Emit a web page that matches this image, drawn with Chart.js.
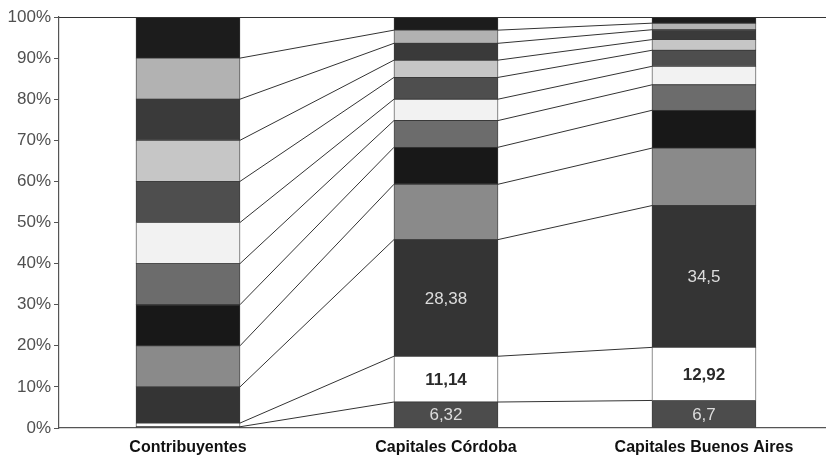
<!DOCTYPE html>
<html>
<head>
<meta charset="utf-8">
<title>Contribuyentes y capitales</title>
<script src="https://cdn.jsdelivr.net/npm/chart.js@4/dist/chart.umd.min.js"></script>
<style>
  html, body { margin: 0; padding: 0; background: #fff; }
  #wrap { width: 826px; height: 458px; position: relative; }
</style>
</head>
<body>
<div id="wrap"><canvas id="chart"></canvas></div>
<script>
// categories (the three bars)
const categories = ['Contribuyentes', 'Capitales Córdoba', 'Capitales Buenos Aires'];

// segment values, bottom to top, one array per bar (%)
const contribuyentes = [0.3, 0.9, 8.8, 10, 10, 10, 10, 10, 10, 10, 10, 10];
const capitalesCordoba = [6.32, 11.14, 28.38, 13.46, 9.0, 6.5, 5.2, 5.3, 4.2, 4.1, 3.2, 3.2];
const capitalesBuenosAires = [6.7, 12.92, 34.5, 13.98, 9.2, 6.2, 4.5, 3.9, 2.6, 2.4, 1.6, 1.5];

// printed labels on the lower segments of the capital bars
const labelsCordoba = ['6,32', '11,14', '28,38'];
const labelsBuenosAires = ['6,7', '12,92', '34,5'];

// y axis tick values
const yTicks = [0, 10, 20, 30, 40, 50, 60, 70, 80, 90, 100];

// grey shades of the segments, bottom to top
const shades = ['#4c4c4c', '#ffffff', '#343434', '#8a8a8a', '#181818', '#6c6c6c',
                '#f2f2f2', '#4e4e4e', '#c6c6c6', '#3a3a3a', '#b2b2b2', '#1c1c1c'];
// text colour for labels on each segment
const labelColors = ['#dcdcdc', '#2a2a2a', '#dcdcdc'];

const FONT = '"Liberation Sans", Arial, sans-serif';

const datasets = contribuyentes.map((v, i) => ({
    data: [v, capitalesCordoba[i], capitalesBuenosAires[i]].map((y, j) => ({ x: j, y: y })),
    backgroundColor: shades[i],
    borderColor: '#3a3a3a',
    borderWidth: 0.8,
    borderSkipped: false,
    barThickness: 104
}));

// lines joining the segment boundaries of neighbouring bars, plus top frame
const connectors = {
    id: 'connectors',
    afterDatasetsDraw(chart) {
        const ctx = chart.ctx;
        const area = chart.chartArea;
        ctx.save();
        ctx.strokeStyle = '#333';
        ctx.lineWidth = 1;
        // top frame line
        ctx.beginPath();
        ctx.moveTo(area.left, area.top + 0.5);
        ctx.lineTo(area.right, area.top + 0.5);
        ctx.stroke();
        for (let i = 0; i < datasets.length - 1; i++) {
            const bars = chart.getDatasetMeta(i).data;
            for (let j = 0; j < bars.length - 1; j++) {
                const a = bars[j], b = bars[j + 1];
                ctx.beginPath();
                ctx.moveTo(a.x + a.width / 2, a.y);
                ctx.lineTo(b.x - b.width / 2, b.y);
                ctx.stroke();
            }
        }
        // value labels
        ctx.textAlign = 'center';
        ctx.textBaseline = 'middle';
        [labelsCordoba, labelsBuenosAires].forEach((labels, k) => {
            labels.forEach((txt, i) => {
                const bar = chart.getDatasetMeta(i).data[k + 1];
                ctx.fillStyle = labelColors[i];
                ctx.font = (i === 1 ? 'bold ' : '') + '17px ' + FONT;
                ctx.fillText(txt, bar.x, (bar.y + bar.base) / 2 + 1);
            });
        });
        ctx.restore();
    }
};

new Chart(document.getElementById('chart'), {
    type: 'bar',
    data: { datasets: datasets },
    options: {
        responsive: true,
        maintainAspectRatio: false,
        animation: false,
        layout: { padding: { top: 17, right: 0, bottom: 0, left: 0 } },
        plugins: {
            legend: { display: false },
            tooltip: { enabled: false }
        },
        scales: {
            x: {
                type: 'linear',
                stacked: true,
                offset: false,
                min: -0.5,
                max: 2.473,
                afterBuildTicks(scale) { scale.ticks = categories.map((c, j) => ({ value: j })); },
                grid: { display: false, offset: false, drawTicks: false, tickLength: 0 },
                border: { display: true, color: '#555', width: 1.2 },
                ticks: {
                    color: '#111',
                    padding: 10,
                    maxRotation: 0,
                    autoSkip: false,
                    font: { family: FONT, size: 16, weight: 'bold' },
                    callback: v => categories[v]
                },
                afterFit(scale) { scale.height = 30; }
            },
            y: {
                stacked: true,
                min: 0,
                max: 100,
                afterBuildTicks(scale) { scale.ticks = yTicks.map(v => ({ value: v })); },
                grid: { drawOnChartArea: false, drawTicks: true, tickLength: 5, color: '#555' },
                border: { display: true, color: '#555', width: 1.2 },
                ticks: {
                    color: '#505050',
                    padding: 3,
                    font: { family: FONT, size: 17 },
                    callback: v => v + '%'
                },
                afterFit(scale) { scale.width = 59; }
            }
        }
    },
    plugins: [connectors]
});
</script>
</body>
</html>
